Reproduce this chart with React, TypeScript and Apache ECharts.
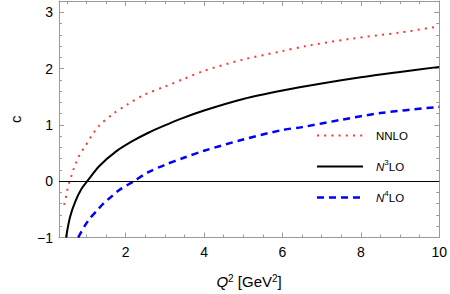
import React, { useEffect, useRef } from "react";
import * as echarts from "echarts";

const nnloX = [0.43, 0.47, 0.5, 0.54, 0.575, 0.625, 0.675, 0.73, 0.79, 0.87, 0.96, 1.125, 1.33, 1.67, 2.04, 2.46, 3, 3.5, 4, 5, 6, 6.6, 7.75, 9, 10];
const nnloY = [-0.42, -0.31, -0.19, -0.09, 0.01, 0.11, 0.22, 0.32, 0.42, 0.52, 0.61, 0.8, 0.99, 1.19, 1.36, 1.53, 1.68, 1.82, 1.96, 2.16, 2.31, 2.4, 2.53, 2.64, 2.75];

const n3loX = [0.48, 0.58, 0.71, 0.875, 1.02, 1.33, 1.75, 2.17, 2.58, 3, 3.42, 4, 5, 6, 7, 8, 9, 10];
const n3loY = [-1.0, -0.64, -0.37, -0.135, 0, 0.27, 0.525, 0.71, 0.86, 0.99, 1.11, 1.255, 1.46, 1.61, 1.735, 1.845, 1.94, 2.03];

const n4loX = [0.79, 0.96, 1.1, 1.27, 1.43, 1.625, 1.83, 2.21, 2.58, 3, 3.5, 4, 5, 6, 6.5, 7.5, 8.5, 10];
const n4loY = [-1.0, -0.79, -0.65, -0.52, -0.4, -0.28, -0.16, 0, 0.16, 0.29, 0.42, 0.54, 0.74, 0.91, 0.96, 1.09, 1.21, 1.32];

const xMajor = [2, 4, 6, 8, 10];
const xMinor = [0.5, 1, 1.5, 2.5, 3, 3.5, 4.5, 5, 5.5, 6.5, 7, 7.5, 8.5, 9, 9.5];
const yMajor = [-1, 0, 1, 2, 3];
const yMinor = [-0.8, -0.6, -0.4, -0.2, 0.2, 0.4, 0.6, 0.8, 1.2, 1.4, 1.6, 1.8, 2.2, 2.4, 2.6, 2.8, 3.2];

const X_MIN = 0.3;
const X_MAX = 10;
const Y_MIN = -1;
const Y_MAX = 3.2;

const FONT = "Liberation Sans, Arial, sans-serif";
const FRAME = "#9a9a9a";

const zip = (xs: number[], ys: number[]) => xs.map((x, i) => [x, ys[i]]);

function xAxisDef(position: "top" | "bottom", major: boolean, withLabels: boolean) {
  return {
    type: "value",
    position,
    min: X_MIN,
    max: X_MAX,
    axisLine: { show: major, onZero: false, lineStyle: { color: FRAME, width: 1 } },
    axisTick: {
      show: true,
      inside: true,
      length: major ? 5 : 3,
      customValues: major ? xMajor : xMinor,
      lineStyle: { color: FRAME, width: 1 },
    },
    axisLabel: withLabels
      ? { show: true, customValues: xMajor, margin: 7, fontSize: 14, color: "#000", fontFamily: FONT }
      : { show: false },
    splitLine: { show: false },
  };
}

function yAxisDef(position: "left" | "right", major: boolean, withLabels: boolean) {
  return {
    type: "value",
    position,
    min: Y_MIN,
    max: Y_MAX,
    axisLine: { show: major, onZero: false, lineStyle: { color: FRAME, width: 1 } },
    axisTick: {
      show: true,
      inside: true,
      length: major ? 5 : 3,
      customValues: major ? yMajor : yMinor,
      lineStyle: { color: FRAME, width: 1 },
    },
    axisLabel: withLabels
      ? {
          show: true,
          customValues: yMajor,
          margin: 6,
          fontSize: 14,
          color: "#000",
          fontFamily: FONT,
          formatter: (v: number) => (v < 0 ? "\u2212" + Math.abs(v) : String(v)),
        }
      : { show: false },
    splitLine: { show: false },
  };
}

export default function App() {
  const ref = useRef<HTMLDivElement>(null);
  useEffect(() => {
    if (!ref.current) return;
    const chart = echarts.init(ref.current, null, { renderer: "svg" });
    const supRich = {
      i: { fontStyle: "italic", fontSize: 15, fontFamily: FONT, color: "#000", lineHeight: 16 },
      n: { fontSize: 15, fontFamily: FONT, color: "#000", lineHeight: 16 },
      s: { fontSize: 10, fontFamily: FONT, color: "#000", verticalAlign: "top", lineHeight: 6 },
    };
    const legRich = {
      i: { fontStyle: "italic", fontSize: 11.5, fontFamily: FONT, fill: "#000", color: "#000", lineHeight: 16 },
      n: { fontSize: 11.5, fontFamily: FONT, fill: "#000", color: "#000", lineHeight: 16 },
      s: { fontSize: 8, fontFamily: FONT, fill: "#000", color: "#000", verticalAlign: "top", lineHeight: 8 },
    };
    const xAx0: any = xAxisDef("bottom", true, true);
    xAx0.name = "{i|Q}{s|2}{n| [GeV}{s|2}{n|]}";
    xAx0.nameLocation = "middle";
    xAx0.nameGap = 36;
    xAx0.nameTextStyle = { fontSize: 15, fontFamily: FONT, color: "#000", rich: supRich };
    const yAx0: any = yAxisDef("left", true, true);
    yAx0.name = "c";
    yAx0.nameLocation = "middle";
    yAx0.nameGap = 36;
    yAx0.nameTextStyle = { fontSize: 15, fontFamily: FONT, color: "#000" };

    const legendItems = [
      { y: 135.5, color: "#ff3636", dash: [2, 5.2], width: 2, text: "{n|NNLO}" },
      { y: 166.5, color: "#000000", dash: null, width: 2, text: "{i|N}{s|3}{n|LO}" },
      { y: 197.5, color: "#0000ff", dash: [7, 5], width: 2.5, text: "{i|N}{s|4}{n|LO}" },
    ];
    const graphics: any[] = [];
    legendItems.forEach((it) => {
      graphics.push({
        type: "line",
        shape: { x1: 317, y1: it.y, x2: 363, y2: it.y },
        style: { stroke: it.color, lineWidth: it.width, lineDash: it.dash || undefined, lineCap: "butt" },
        silent: true,
      });
      graphics.push({
        type: "text",
        x: 376,
        y: it.y,
        style: {
          text: it.text,
          rich: legRich,
          fill: "#000",
          font: "11.5px " + FONT,
          verticalAlign: "middle",
          align: "left",
        },
        silent: true,
      });
    });

    chart.setOption({
      animation: false,
      backgroundColor: "#fff",
      grid: { left: 52, right: 10, top: 1, bottom: 55, containLabel: false },
      xAxis: [xAx0, xAxisDef("top", true, false), xAxisDef("bottom", false, false), xAxisDef("top", false, false)],
      yAxis: [yAx0, yAxisDef("right", true, false), yAxisDef("left", false, false), yAxisDef("right", false, false)],
      series: [
        {
          name: "NNLO",
          type: "line",
          xAxisIndex: 0,
          yAxisIndex: 0,
          data: zip(nnloX, nnloY),
          showSymbol: false,
          smooth: 0.3,
          clip: true,
          lineStyle: { color: "#ff3636", width: 2, type: [2, 5.2], cap: "butt" },
          z: 3,
        },
        {
          name: "N3LO",
          type: "line",
          xAxisIndex: 0,
          yAxisIndex: 0,
          data: zip(n3loX, n3loY),
          showSymbol: false,
          smooth: 0.3,
          clip: true,
          lineStyle: { color: "#000", width: 2, type: "solid" },
          z: 3,
          markLine: {
            silent: true,
            symbol: ["none", "none"],
            label: { show: false },
            lineStyle: { color: "#000", width: 1, type: "solid" },
            data: [{ yAxis: 0 }],
          },
        },
        {
          name: "N4LO",
          type: "line",
          xAxisIndex: 0,
          yAxisIndex: 0,
          data: zip(n4loX, n4loY),
          showSymbol: false,
          smooth: 0.3,
          clip: true,
          lineStyle: { color: "#0000ff", width: 2.5, type: [7, 5], cap: "butt" },
          z: 3,
        },
      ],
      graphic: graphics,
    });
    return () => chart.dispose();
  }, []);
  return (
    <div style={{ position: "fixed", left: 0, top: 0, width: 450, height: 294, overflow: "hidden" }}>
      <div ref={ref} style={{ width: 450, height: 294, overflow: "hidden" }} />
    </div>
  );
}
